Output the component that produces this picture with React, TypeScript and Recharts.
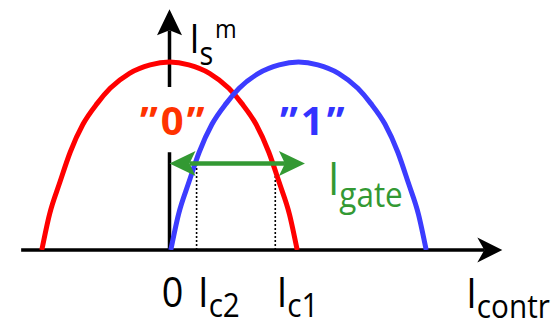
import React from 'react';
import { ComposedChart, Line, XAxis, YAxis, ReferenceLine, Customized } from 'recharts';

// Critical current of state "0" versus control current
const redX = [-0.99, -0.93, -0.85, -0.77, -0.67, -0.56, -0.46, -0.31, -0.15, 0, 0.15, 0.31, 0.46, 0.56, 0.67, 0.77, 0.85, 0.93, 0.99];
const redY = [0, 0.19, 0.36, 0.52, 0.67, 0.78, 0.86, 0.94, 0.985, 1, 0.985, 0.94, 0.86, 0.78, 0.67, 0.52, 0.36, 0.19, 0];

// Critical current of state "1" versus control current
const blueX = [0.01, 0.07, 0.15, 0.23, 0.33, 0.44, 0.54, 0.69, 0.85, 1.0, 1.15, 1.31, 1.46, 1.56, 1.67, 1.77, 1.85, 1.93, 1.99];
const blueY = [0, 0.19, 0.36, 0.52, 0.67, 0.78, 0.86, 0.94, 0.985, 1, 0.985, 0.94, 0.86, 0.78, 0.67, 0.52, 0.36, 0.19, 0];

// Gate current level and the two marked control currents
const gateLevel = 0.46;
const gateEnd = 1.05;
const ic2 = 0.21;
const ic1 = 0.82;
const xTicks = [0, ic2, ic1];
const tickMain = ['0', 'I', 'I'];
const tickSub = ['', 'c2', 'c1'];

const stateLabels = ['\u201D0\u201D', '\u201D1\u201D'];

const redData = redX.map((x, i) => ({ x, y: redY[i] }));
const blueData = blueX.map((x, i) => ({ x, y: blueY[i] }));

const W = 556;
const H = 321;
const X_MIN = -1.15;
const X_MAX = 2.6;
const Y_MAX = 1.3;
const PX_X = 129;
const PX_Y = 188;
const ORIGIN_X = 169.5;
const ORIGIN_Y = 250;

const FONT = "'Open Sans', 'DejaVu Sans', sans-serif";
const SX = 0.9;

const RED = '#FF0000';
const BLUE = '#3C3CFF';
const GREEN = '#339933';

function headPoints(tx: number, ty: number, ux: number, uy: number, len: number, half: number, notch: number) {
  const bx = tx - ux * len;
  const by = ty - uy * len;
  const px = -uy;
  const py = ux;
  const nx = tx - ux * (len - notch);
  const ny = ty - uy * (len - notch);
  return `${tx},${ty} ${bx + px * half},${by + py * half} ${nx},${ny} ${bx - px * half},${by - py * half}`;
}

function arrowShape(color: string, width: number, len: number, half: number, notch: number, both: boolean) {
  return (p: any) => {
    const x1 = Number(p.x1), y1 = Number(p.y1), x2 = Number(p.x2), y2 = Number(p.y2);
    const d = Math.hypot(x2 - x1, y2 - y1) || 1;
    const ux = (x2 - x1) / d;
    const uy = (y2 - y1) / d;
    const inset = len - notch;
    const sx = both ? x1 + ux * inset : x1;
    const sy = both ? y1 + uy * inset : y1;
    return (
      <g>
        <line x1={sx} y1={sy} x2={x2 - ux * inset} y2={y2 - uy * inset} stroke={color} strokeWidth={width} />
        <polygon points={headPoints(x2, y2, ux, uy, len, half, notch)} fill={color} />
        {both && <polygon points={headPoints(x1, y1, -ux, -uy, len, half, notch)} fill={color} />}
      </g>
    );
  };
}

function plainShape(p: any) {
  return <line x1={p.x1} y1={p.y1} x2={p.x2} y2={p.y2} stroke="#000" strokeWidth={3.5} />;
}

function dottedShape(p: any) {
  return <line x1={p.x1} y1={p.y1} x2={p.x2} y2={p.y2} stroke="#000" strokeWidth={1.6} strokeDasharray="2 2" />;
}

type SubTextProps = {
  x: number;
  y: number;
  main: string;
  sub?: string;
  sup?: string;
  size: number;
  subSize?: number;
  supSize?: number;
  subDy?: number;
  supDy?: number;
  fill?: string;
  anchor?: 'start' | 'middle' | 'end';
};

function SubText({ x, y, main, sub, sup, size, subSize = 32, supSize = 25, subDy = 11, supDy = -27, fill = '#000', anchor = 'start' }: SubTextProps) {
  return (
    <g transform={`translate(${x},${y}) scale(${SX},1)`}>
      <text x={0} y={0} fontFamily={FONT} fill={fill} textAnchor={anchor}>
        <tspan fontSize={size}>{main}</tspan>
        {sub ? (
          <tspan fontSize={subSize} dy={subDy}>
            {sub}
          </tspan>
        ) : null}
        {sup ? (
          <tspan fontSize={supSize} dy={supDy} dx={2}>
            {sup}
          </tspan>
        ) : null}
      </text>
    </g>
  );
}

function AxisTick(props: any) {
  const { x, y, payload, index } = props;
  const i = typeof index === 'number' ? index : xTicks.indexOf(payload.value);
  if (tickSub[i]) {
    return <SubText x={x + 1.5} y={y + 57} main={tickMain[i]} sub={tickSub[i]} size={42} subSize={33} subDy={10} />;
  }
  return <SubText x={x + 3} y={y + 57} main={tickMain[i]} size={42} anchor="middle" />;
}

function Annotations() {
  return (
    <g>
      <SubText x={189.5} y={53} main="I" sub="s" sup="m" size={40} subSize={32} supSize={26} subDy={12} supDy={-27} />
      <SubText x={466.3} y={308} main="I" sub="contr" size={42} subSize={33} subDy={10} />
      <SubText x={328} y={195} main="I" sub="gate" size={45} subSize={35} subDy={12} fill={GREEN} />
      <text x={140} y={135} fontFamily={FONT} fontWeight={700} fontSize={40} letterSpacing={3} fill="#FF3300">
        {stateLabels[0]}
      </text>
      <text x={280} y={135} fontFamily={FONT} fontWeight={700} fontSize={40} letterSpacing={3} fill="#3333FF">
        {stateLabels[1]}
      </text>
    </g>
  );
}

export default function App() {
  const margin = {
    left: ORIGIN_X + X_MIN * PX_X,
    right: W - (ORIGIN_X + X_MAX * PX_X),
    top: ORIGIN_Y - Y_MAX * PX_Y,
    bottom: 0,
  };
  return (
    <div style={{ position: 'absolute', left: 0, top: 0, width: W, height: H, background: '#fff' }}>
      <ComposedChart width={W} height={H} margin={margin}>
        <XAxis
          dataKey="x"
          type="number"
          domain={[X_MIN, X_MAX]}
          ticks={xTicks}
          interval={0}
          axisLine={false}
          tickLine={false}
          tickSize={0}
          tickMargin={0}
          height={H - ORIGIN_Y}
          tick={<AxisTick />}
          allowDataOverflow
        />
        <YAxis hide type="number" domain={[0, Y_MAX]} allowDataOverflow />

        {/* horizontal control-current axis */}
        <ReferenceLine
          segment={[{ x: X_MIN, y: 0 }, { x: 2.58, y: 0 }]}
          shape={arrowShape('#000', 3.5, 25, 12.5, 7, false)}
        />
        {/* vertical axis, interrupted behind the state label */}
        <ReferenceLine segment={[{ x: 0, y: 0 }, { x: 0, y: 0.52 }]} shape={plainShape} />
        <ReferenceLine
          segment={[{ x: 0, y: 0.867 }, { x: 0, y: 1.28 }]}
          shape={arrowShape('#000', 3.5, 26, 12.5, 5, false)}
        />
        {/* projections of the gate level onto the control axis */}
        <ReferenceLine segment={[{ x: ic2, y: 0 }, { x: ic2, y: gateLevel }]} shape={dottedShape} />
        <ReferenceLine segment={[{ x: ic1, y: 0 }, { x: ic1, y: gateLevel }]} shape={dottedShape} />

        <Line data={redData} dataKey="y" type="monotone" stroke={RED} strokeWidth={5} dot={false} isAnimationActive={false} />
        <Line data={blueData} dataKey="y" type="monotone" stroke={BLUE} strokeWidth={5} dot={false} isAnimationActive={false} />

        {/* gate current window */}
        <ReferenceLine
          segment={[{ x: 0, y: gateLevel }, { x: gateEnd, y: gateLevel }]}
          shape={arrowShape(GREEN, 4.5, 26, 12.5, 6, true)}
        />

        <Customized component={Annotations} />
      </ComposedChart>
    </div>
  );
}
